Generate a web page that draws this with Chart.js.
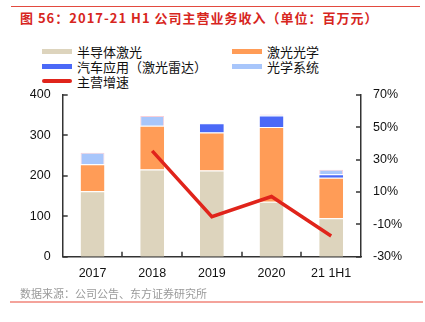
<!DOCTYPE html>
<html><head><meta charset="utf-8">
<script src="https://cdn.jsdelivr.net/npm/chart.js@4/dist/chart.umd.min.js"></script>
<style>
html,body{margin:0;padding:0;background:#fff;}
#wrap{position:relative;width:425px;height:322px;overflow:hidden;font-family:"Liberation Sans","Noto Sans CJK SC",sans-serif;}
#c{position:absolute;left:0;top:0;}
.t{position:absolute;white-space:nowrap;}
.sw{position:absolute;width:30px;}
</style></head>
<body><div id="wrap">
<div style="position:absolute;left:11px;top:6px;width:409px;height:1px;background:#e24a3f;"></div>
<div class="t" style="left:20px;top:8px;font-size:13px;font-weight:bold;letter-spacing:1px;color:#d7261e;font-family:'Noto Sans CJK SC',sans-serif;">图 56：2017-21 H1 公司主营业务收入（单位：百万元）</div>
<div id="legend"></div>
<canvas id="c" width="425" height="322"></canvas>
<div class="t" style="left:20px;top:285px;font-size:11px;color:#9a9a9a;font-family:'Noto Sans CJK SC',sans-serif;">数据来源：公司公告、东方证券研究所</div>
<div style="position:absolute;left:10px;top:301px;width:413px;height:2px;background:#f4a39b;"></div>
</div>
<script>
const categories = ['2017','2018','2019','2020','21 1H1'];
const semiLaser = [162, 216, 213, 136, 95];
const laserOptics = [67, 108, 94, 185, 100];
const autoLidar = [0, 0, 23, 28, 9];
const opticalSystems = [28, 24, 1, 3, 11];
const revenueGrowth = [null, 35.4, -5.3, 7.2, -17.2];
const leftTicks = [0, 100, 200, 300, 400];
const rightTicks = [-30, -10, 10, 30, 50, 70];

const names = ['半导体激光','激光光学','汽车应用（激光雷达）','光学系统','主营增速'];
const colors = ['#ddd4bd','#ff9c57','#4b69f7','#a8c6fb','#e0241b'];

// HTML legend
const lg = document.getElementById('legend');
const pos = [[42,51.5],[232,51.5],[42,66],[232,66],[42,81]];
names.forEach((n,i)=>{
  const [x,y]=pos[i];
  const s=document.createElement('div');
  s.className='sw';
  const h = i===4?4:5;
  s.style.left=x+'px'; s.style.top=(y-h/2)+'px'; s.style.height=h+'px'; s.style.background=colors[i];
  if(i===4) s.style.borderRadius='2px';
  lg.appendChild(s);
  const t=document.createElement('div');
  t.className='t';
  t.textContent=n;
  t.style.left=(x+35)+'px'; t.style.top=(y-9.5)+'px';
  t.style.fontSize='13px'; t.style.color='#111';
  t.style.fontFamily="'Noto Sans CJK SC',sans-serif";
  lg.appendChild(t);
});

const inwardTicks = {
  id:'inwardTicks',
  afterDraw(chart){
    const ctx=chart.ctx; const a=chart.chartArea;
    ctx.save(); ctx.strokeStyle='#333'; ctx.lineWidth=1.5;
    const y=chart.scales.y, y1=chart.scales.y1, x=chart.scales.x;
    leftTicks.forEach(v=>{const p=Math.round(y.getPixelForValue(v)); ctx.beginPath(); ctx.moveTo(a.left,p); ctx.lineTo(a.left+5,p); ctx.stroke();});
    rightTicks.forEach(v=>{const p=Math.round(y1.getPixelForValue(v)); ctx.beginPath(); ctx.moveTo(a.right,p); ctx.lineTo(a.right-5,p); ctx.stroke();});
    for(let i=0;i<categories.length-1;i++){
      const p=Math.round((x.getPixelForValue(i)+x.getPixelForValue(i+1))/2);
      ctx.beginPath(); ctx.moveTo(p,a.bottom); ctx.lineTo(p,a.bottom-5); ctx.stroke();
    }
    ctx.restore();
  }
};

const tickFont={family:'Liberation Sans',size:12.5};
new Chart(document.getElementById('c'),{
  data:{
    labels:categories,
    datasets:[
      {type:'line',label:names[4],data:revenueGrowth,yAxisID:'y1',borderColor:colors[4],borderWidth:3.5,pointRadius:0,tension:0,order:0},
      {type:'bar',label:names[0],data:semiLaser,backgroundColor:colors[0],borderColor:'#fff',borderWidth:{top:1},yAxisID:'y',stack:'s',order:1,barPercentage:0.4,categoryPercentage:1},
      {type:'bar',label:names[1],data:laserOptics,backgroundColor:colors[1],borderColor:'#fff',borderWidth:{top:1},yAxisID:'y',stack:'s',order:1,barPercentage:0.4,categoryPercentage:1},
      {type:'bar',label:names[2],data:autoLidar,backgroundColor:colors[2],borderColor:'#fff',borderWidth:{top:1},yAxisID:'y',stack:'s',order:1,barPercentage:0.4,categoryPercentage:1},
      {type:'bar',label:names[3],data:opticalSystems,backgroundColor:colors[3],borderColor:'#f9cfd8',borderWidth:1,yAxisID:'y',stack:'s',order:1,barPercentage:0.4,categoryPercentage:1}
    ]
  },
  options:{
    responsive:false,animation:false,devicePixelRatio:1,
    layout:{padding:{top:95,left:0,right:0,bottom:0}},
    plugins:{legend:{display:false},tooltip:{enabled:false}},
    scales:{
      x:{stacked:true,grid:{display:false,drawTicks:false},border:{color:'#333',width:1.5},
         ticks:{font:tickFont,color:'#111',padding:9,maxRotation:0},
         afterFit(s){s.height=65.3;}},
      y:{stacked:true,position:'left',min:0,max:400,grid:{display:false,drawTicks:false},border:{color:'#333',width:1.5},
         afterBuildTicks(s){s.ticks=leftTicks.map(v=>({value:v}));},
         ticks:{font:tickFont,color:'#111',padding:12},
         afterFit(s){s.width=62.7;}},
      y1:{position:'right',min:-30,max:70,grid:{display:false,drawTicks:false},border:{color:'#333',width:1.5},
         afterBuildTicks(s){s.ticks=rightTicks.map(v=>({value:v}));},
         ticks:{font:tickFont,color:'#111',padding:12,callback:v=>v+'%'},
         afterFit(s){s.width=64;}}
    }
  },
  plugins:[inwardTicks]
});
</script>
</body></html>
